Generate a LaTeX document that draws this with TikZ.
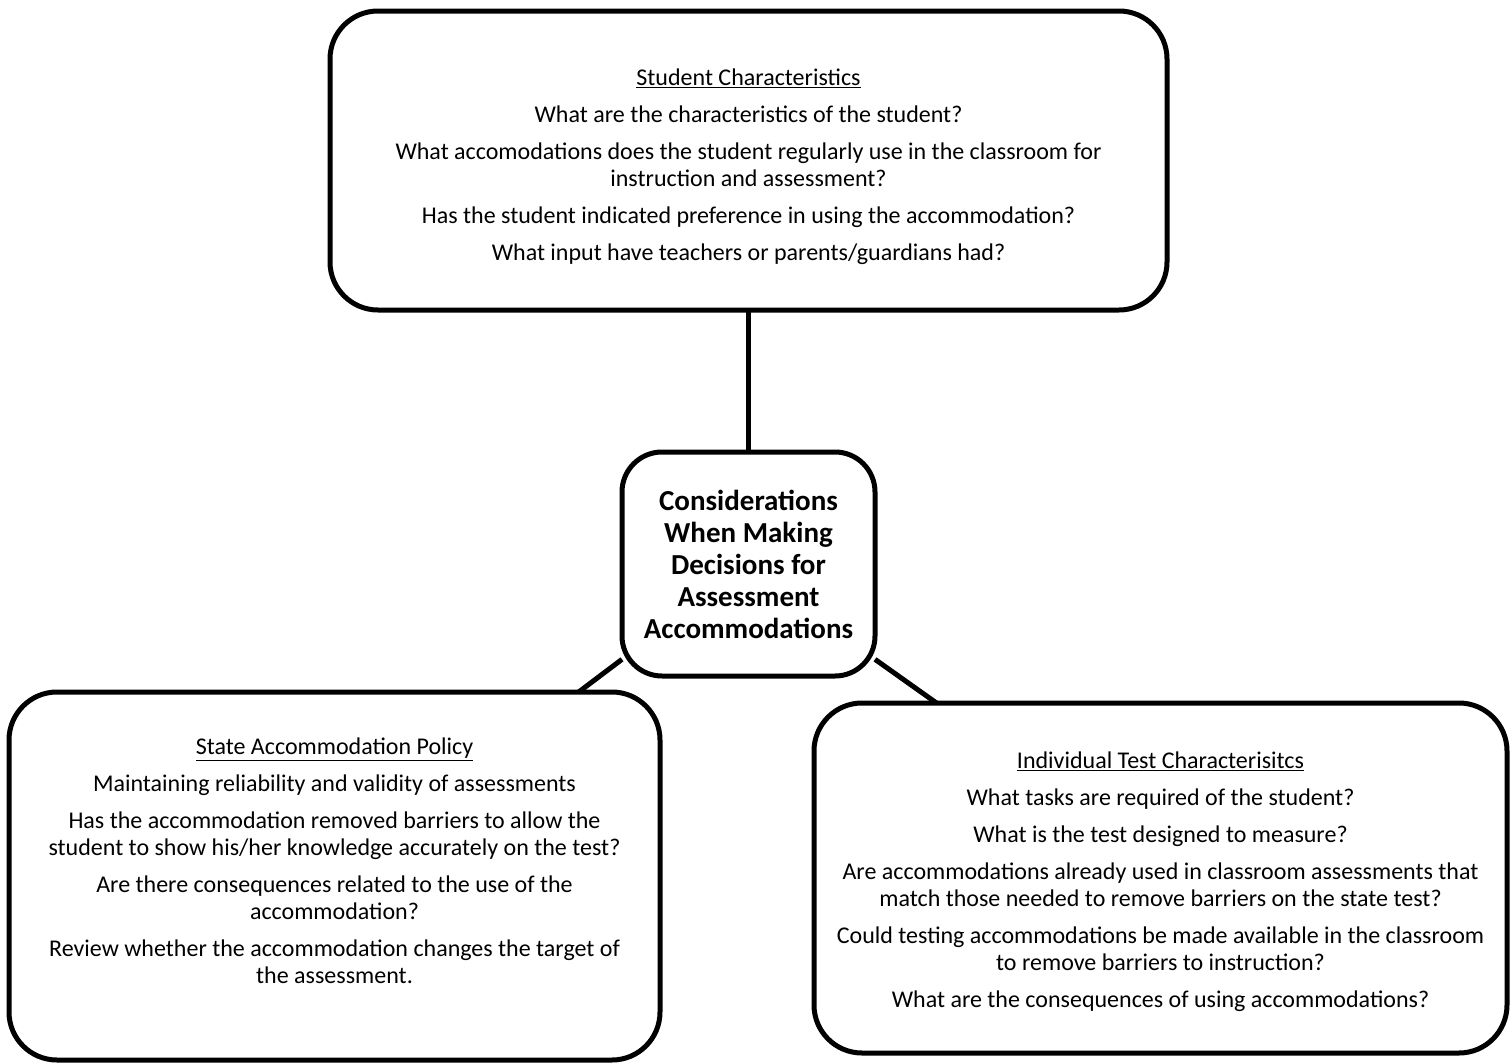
\documentclass[tikz,border=0pt]{standalone}
\usepackage{fontspec}
\setmainfont{Carlito}
\usetikzlibrary{positioning}
\tikzset{
  ac box/.style={
    rectangle, rounded corners=48pt, draw=black, line width=5pt,
    align=flush center, inner sep=0pt, outer sep=0pt,
    font=\fontsize{24}{27}\selectfont
  },
  ac hub/.style={
    ac box, rounded corners=40pt,
    minimum width=253pt, minimum height=224pt, text width=240pt,
    font=\fontsize{29}{32}\selectfont\bfseries
  },
  ac link/.style={
    line width=5pt, draw=black
  }
}

\begin{document}
\begin{tikzpicture}[x=1pt, y=1pt]
  \useasboundingbox (0,0) rectangle (1510,-1063);

  \node (hub) [ac hub] at (748.5,-564) {Considerations\\When Making\\Decisions for\\Assessment\\Accommodations};
  \node (student) [ac box, minimum width=837pt, minimum height=299pt, text width=780pt, above=142pt of hub]
    {\rule{0pt}{29pt}\underline{Student Characteristics}\\[10pt]
     What are the characteristics of the student?\\[10pt]
     What accomodations does the student regularly use in the classroom for\\instruction and assessment?\\[10pt]
     Has the student indicated preference in using the accommodation?\\[10pt]
     What input have teachers or parents/guardians had?};
  \node (policy) [ac box, minimum width=651pt, minimum height=368pt, text width=630pt] at (334.5,-876)
    {\underline{State Accommodation Policy}\\[10pt]
     Maintaining reliability and validity of assessments\\[10pt]
     Has the accommodation removed barriers to allow the\\student to show his/her knowledge accurately on the test?\\[10pt]
     Are there consequences related to the use of the\\accommodation?\\[10pt]
     Review whether the accommodation changes the target of\\the assessment.\\[3pt]
     \mbox{}};
  \node (test) [ac box, minimum width=693pt, minimum height=350pt, text width=680pt] at (1160.5,-878)
    {\rule{0pt}{24pt}\underline{Individual Test Characterisitcs}\\[10pt]
     What tasks are required of the student?\\[10pt]
     What is the test designed to measure?\\[10pt]
     Are accommodations already used in classroom assessments that\\match those needed to remove barriers on the state test?\\[10pt]
     Could testing accommodations be made available in the classroom\\to remove barriers to instruction?\\[10pt]
     What are the consequences of using accommodations?};

  \draw [ac link] (student) -- (hub);
  \draw [ac link] (hub.217) -- (policy.37);
  \draw [ac link] (hub.323) -- (test.142);
\end{tikzpicture}
\end{document}
